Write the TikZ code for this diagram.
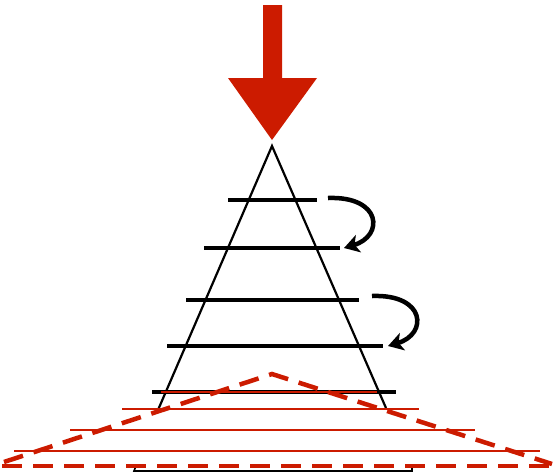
\documentclass[tikz,border=0pt]{standalone}
\usetikzlibrary{arrows.meta}

\definecolor{loadred}{RGB}{204,27,0}

\begin{document}
\begin{tikzpicture}[x=1pt, y=-1pt, line cap=butt, line join=miter]

\useasboundingbox (0,0) rectangle (555,472);

% Load arrow on top
\fill[loadred] (263,5) -- (282,5) -- (282,78) -- (317,78) -- (272,140)
  -- (228,78) -- (263,78) -- cycle;

% Cone
\coordinate (apex) at (272,146);
\draw[line width=2.2pt] (158,410) -- (apex) -- (386,408);

% Layers
\draw[line width=3.5pt] (228,200) -- (317,200);
\draw[line width=3.5pt] (204,248) -- (340,248);
\draw[line width=3.5pt] (186,300) -- (359,300);
\draw[line width=3.5pt] (167,346) -- (383,346);
\draw[line width=3.5pt] (152,392) -- (396,392);

% Turning arrows
\draw[line width=4.5pt, -{Stealth[length=15pt, width=18pt, inset=4pt]}]
  (328,198) .. controls (382,196) and (384,236) .. (344,248);
\draw[line width=4.5pt, -{Stealth[length=15pt, width=18pt, inset=4pt]}]
  (372,296) .. controls (426,294) and (428,334) .. (388,346);

% Base bracket
\draw[line width=1.6pt] (136,466) -- (134,471) -- (412,471) -- (412,466);

% Spread lines below
\draw[loadred, line width=2.2pt] (161,392) -- (377,392);
\draw[loadred, line width=2.2pt] (122,409) -- (419,409);
\draw[loadred, line width=2.2pt] (70,430) -- (475,430);
\draw[loadred, line width=2.2pt] (14,451) -- (540,451);

% Dashed spread
\draw[loadred, line width=4.5pt, dash pattern=on 20pt off 11pt]
  (4,462) -- (272,374) -- (552,464);
\draw[loadred, line width=4.5pt, dash pattern=on 20pt off 11pt]
  (2,466) -- (555,466);

\end{tikzpicture}
\end{document}
